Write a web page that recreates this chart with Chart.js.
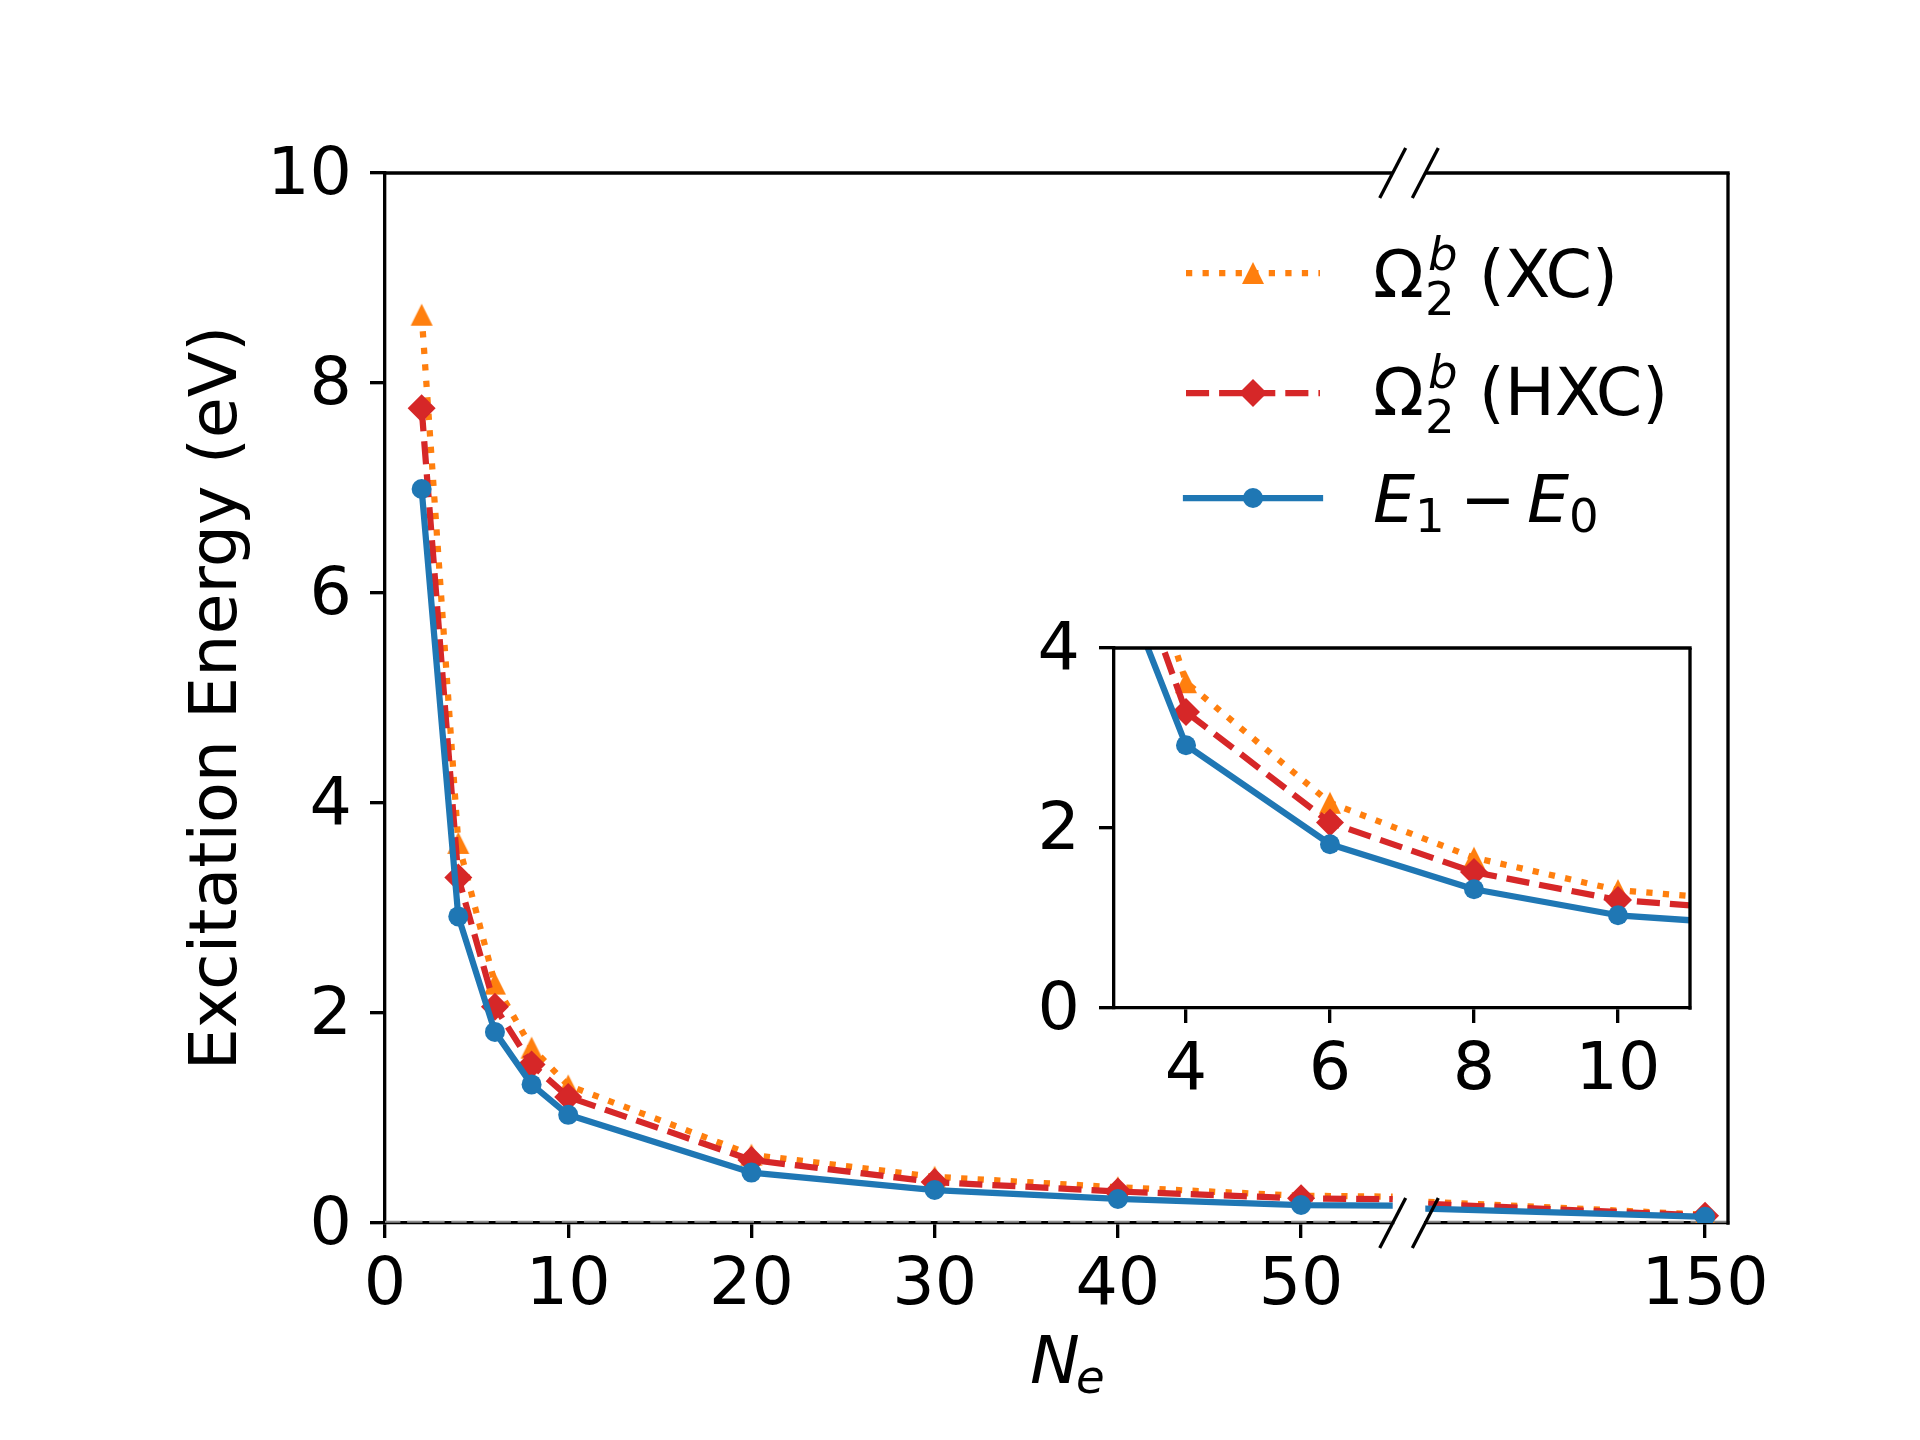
<!DOCTYPE html>
<html>
<head>
<meta charset="utf-8">
<script src="https://cdn.jsdelivr.net/npm/chart.js@4.4.1/dist/chart.umd.min.js"></script>
<style>
  html, body { margin: 0; padding: 0; background: #ffffff; }
  #wrap { position: relative; width: 1920px; height: 1440px; background: #ffffff; }
  #wrap canvas { position: absolute; left: 0; top: 0; }
</style>
</head>
<body>
<div id="wrap">
  <canvas id="mainL" width="1920" height="1440"></canvas>
  <canvas id="mainR" width="1920" height="1440"></canvas>
  <canvas id="inset" width="1920" height="1440"></canvas>
</div>
<script>
// ---------------- data ----------------
const ne        = [2, 4, 6, 8, 10, 20, 30, 40, 50, 150];
const omegaXC   = [8.65, 3.62, 2.28, 1.67, 1.31, 0.65, 0.44, 0.34, 0.26, 0.08];
const omegaHXC  = [7.76, 3.29, 2.06, 1.51, 1.20, 0.60, 0.39, 0.30, 0.235, 0.07];
const e1MinusE0 = [6.99, 2.92, 1.82, 1.32, 1.03, 0.48, 0.314, 0.229, 0.171, 0.06];

const xTicksLeft  = [0, 10, 20, 30, 40, 50];
const xTicksRight = [150];
const yTicksMain  = [0, 2, 4, 6, 8, 10];
const xTicksInset = [4, 6, 8, 10];
const yTicksInset = [0, 2, 4];

const xLimLeft  = [0, 55];
const xLimRight = [81.6, 155.6];
const yLimMain  = [0, 10];
const xLimInset = [3, 11];
const yLimInset = [0, 4];

const yTitle = 'Excitation Energy (eV)';

// ---------------- layout / style ----------------
const FIG_W = 1920, FIG_H = 1440;
const MAIN = { top: 173, bottom: 1223, leftL: 385, rightL: 1392.7, leftR: 1425.3, rightR: 1728 };
const INS  = { left: 1114, right: 1690, top: 648, bottom: 1008 };
const SP = 3.33, TL = 15, FS = 66.67, FS_SUB = 46.67, LW = 6.25;
const FAM = 'DejaVu Sans';
const C_OR = '#ff7f0e', C_RD = '#d62728', C_BL = '#1f77b4';
const DASH_DOT = [6.25, 10.3], DASH_DASH = [23.1, 10];

Chart.defaults.font.family = FAM;
Chart.defaults.color = '#000';

function triCanvas(color, size) {
  const c = document.createElement('canvas');
  const s = Math.ceil(size) + 2;
  c.width = s; c.height = s;
  const g = c.getContext('2d');
  g.fillStyle = color;
  g.beginPath();
  g.moveTo(s / 2, (s - size) / 2);
  g.lineTo((s + size) / 2, (s + size) / 2);
  g.lineTo((s - size) / 2, (s + size) / 2);
  g.closePath();
  g.fill();
  return c;
}
const TRI = triCanvas(C_OR, 22);

function pts(ys) { return ne.map((x, i) => ({ x: x, y: ys[i] })); }

function datasets() {
  return [
    { label: 'XC', data: pts(omegaXC), borderColor: C_OR, backgroundColor: C_OR,
      borderWidth: LW, borderDash: DASH_DOT, borderCapStyle: 'butt', borderJoinStyle: 'round',
      pointStyle: TRI, pointRadius: 11, pointBorderWidth: 0, pointBackgroundColor: C_OR,
      order: 3, clip: 0, tension: 0 },
    { label: 'HXC', data: pts(omegaHXC), borderColor: C_RD, backgroundColor: C_RD,
      borderWidth: LW, borderDash: DASH_DASH, borderCapStyle: 'butt', borderJoinStyle: 'round',
      pointStyle: 'rectRot', pointRadius: 14, pointBorderWidth: 0, pointBackgroundColor: C_RD,
      order: 2, clip: 0, tension: 0 },
    { label: 'E1-E0', data: pts(e1MinusE0), borderColor: C_BL, backgroundColor: C_BL,
      borderWidth: LW, borderCapStyle: 'square', borderJoinStyle: 'round',
      pointStyle: 'circle', pointRadius: 10, pointBorderWidth: 0, pointBackgroundColor: C_BL,
      order: 1, clip: 0, tension: 0 }
  ];
}

function tickGrid() {
  return { display: true, drawOnChartArea: false, drawTicks: true, tickLength: TL,
           tickWidth: SP, tickColor: '#000', color: '#000', lineWidth: SP };
}
function spine() { return { display: true, color: '#000', width: SP }; }
function tickFont() { return { family: FAM, size: FS }; }

function xAxis(lim, vals, bottom, pad) {
  return {
    type: 'linear', position: 'bottom', min: lim[0], max: lim[1],
    afterBuildTicks: s => { s.ticks = vals.map(v => ({ value: v })); },
    afterFit: s => { s.height = FIG_H - bottom; },
    grid: tickGrid(), border: spine(),
    ticks: { color: '#000', font: tickFont(), padding: pad, maxRotation: 0, minRotation: 0,
             autoSkip: false, callback: v => String(v) }
  };
}
function yAxis(lim, vals, left, pad, title) {
  const ax = {
    type: 'linear', position: 'left', min: lim[0], max: lim[1],
    afterBuildTicks: s => { s.ticks = vals.map(v => ({ value: v })); },
    afterFit: s => { s.width = left; },
    grid: tickGrid(), border: spine(),
    ticks: { color: '#000', font: tickFont(), padding: pad, labelOffset: 4, autoSkip: false,
             callback: v => String(v) }
  };
  if (title) {
    ax.title = { display: true, text: title, color: '#000', font: { family: FAM, size: FS },
                 padding: { top: 178.5, bottom: 0 } };
  }
  return ax;
}

function line(ctx, x1, y1, x2, y2, w, color, dash, cap) {
  ctx.save();
  ctx.strokeStyle = color || '#000';
  ctx.lineWidth = w;
  ctx.lineCap = cap || 'butt';
  ctx.setLineDash(dash || []);
  ctx.beginPath();
  ctx.moveTo(x1, y1);
  ctx.lineTo(x2, y2);
  ctx.stroke();
  ctx.restore();
}

function zeroLine(chart) {
  const a = chart.chartArea;
  const y = chart.scales.y.getPixelForValue(0);
  line(chart.ctx, a.left, y - 1.2, a.right, y - 1.2, 2, '#8c8c8c', [15.4, 6.7]);
}

function drawMarker(ctx, kind, x, y, color) {
  ctx.save();
  ctx.fillStyle = color;
  ctx.beginPath();
  if (kind === 'tri') {
    ctx.moveTo(x, y - 11); ctx.lineTo(x + 11, y + 11); ctx.lineTo(x - 11, y + 11);
  } else if (kind === 'dia') {
    ctx.moveTo(x, y - 14); ctx.lineTo(x + 14, y); ctx.lineTo(x, y + 14); ctx.lineTo(x - 14, y);
  } else {
    ctx.arc(x, y, 10, 0, Math.PI * 2);
  }
  ctx.closePath();
  ctx.fill();
  ctx.restore();
}

function txt(ctx, s, x, y, size, italic) {
  ctx.save();
  ctx.fillStyle = '#000';
  ctx.textBaseline = 'alphabetic';
  ctx.textAlign = 'left';
  ctx.font = (italic ? 'italic ' : '') + size + 'px "' + FAM + '"';
  ctx.fillText(s, x, y);
  const w = ctx.measureText(s).width;
  ctx.restore();
  return w;
}

function omegaLabel(ctx, x0, base, tail) {
  const wO = txt(ctx, 'Ω', x0, base, FS, false);
  const xs = x0 + wO + 1;
  const wb = txt(ctx, 'b', xs + 3, base - 27, FS_SUB, true);
  const w2 = txt(ctx, '2', xs, base + 18, FS_SUB, false);
  txt(ctx, ' ' + tail, xs + Math.max(wb + 3, w2), base, FS, false);
}

function drawLegend(ctx) {
  const x1 = 1186, x2 = 1320, xm = 1253;
  const rows = [
    { y: 273, color: C_OR, dash: DASH_DOT, cap: 'butt', mk: 'tri' },
    { y: 393, color: C_RD, dash: DASH_DASH, cap: 'butt', mk: 'dia' },
    { y: 498, color: C_BL, dash: [], cap: 'square', mk: 'circ' }
  ];
  rows.forEach(r => {
    line(ctx, x1, r.y, x2, r.y, LW, r.color, r.dash, r.cap);
    drawMarker(ctx, r.mk, xm, r.y, r.color);
  });
  omegaLabel(ctx, 1373, 297, '(XC)');
  omegaLabel(ctx, 1373, 415, '(HXC)');
  // E_1 − E_0
  txt(ctx, 'E', 1373, 522, FS, true);
  txt(ctx, '1', 1415, 532, FS_SUB, false);
  txt(ctx, '\u2212', 1460, 522, FS, false);
  txt(ctx, 'E', 1527, 522, FS, true);
  txt(ctx, '0', 1569, 532, FS_SUB, false);
}

function drawXLabel(ctx) {
  txt(ctx, 'N', 1030, 1383, FS, true);
  txt(ctx, 'e', 1076, 1393, FS_SUB, true);
}

const baseOpts = {
  responsive: false, animation: false, devicePixelRatio: 1, events: [],
  plugins: { legend: { display: false }, tooltip: { enabled: false }, title: { display: false } }
};

// -------- main chart, left segment --------
new Chart(document.getElementById('mainL'), {
  type: 'line',
  data: { datasets: datasets() },
  options: Object.assign({}, baseOpts, {
    layout: { padding: { left: 0, top: MAIN.top, right: FIG_W - MAIN.rightL, bottom: 0 } },
    scales: {
      x: xAxis(xLimLeft, xTicksLeft, MAIN.bottom, 9),
      y: yAxis(yLimMain, yTicksMain, MAIN.leftL, 18, yTitle)
    }
  }),
  plugins: [{
    id: 'frameL',
    beforeDatasetsDraw(chart) { zeroLine(chart); },
    afterDraw(chart) {
      const a = chart.chartArea, ctx = chart.ctx;
      line(ctx, a.left - SP / 2, a.top, a.right, a.top, SP);
      drawXLabel(ctx);
      drawLegend(ctx);
    }
  }]
});

// -------- main chart, right segment --------
new Chart(document.getElementById('mainR'), {
  type: 'line',
  data: { datasets: datasets() },
  options: Object.assign({}, baseOpts, {
    layout: { padding: { left: MAIN.leftR, top: MAIN.top, right: FIG_W - MAIN.rightR, bottom: 0 } },
    scales: {
      x: xAxis(xLimRight, xTicksRight, MAIN.bottom, 9),
      y: { type: 'linear', display: false, min: yLimMain[0], max: yLimMain[1] }
    }
  }),
  plugins: [{
    id: 'frameR',
    beforeDatasetsDraw(chart) { zeroLine(chart); },
    afterDraw(chart) {
      const a = chart.chartArea, ctx = chart.ctx;
      line(ctx, a.left, a.top, a.right + SP / 2, a.top, SP);
      line(ctx, a.right, a.top, a.right, a.bottom + SP / 2, SP);
      // break marks
      const dx = 13, dy = 25;
      [MAIN.rightL, a.left].forEach(cx => {
        [a.top, a.bottom].forEach(cy => {
          line(ctx, cx - dx, cy + dy, cx + dx, cy - dy, SP);
        });
      });
    }
  }]
});

// -------- inset --------
new Chart(document.getElementById('inset'), {
  type: 'line',
  data: { datasets: datasets() },
  options: Object.assign({}, baseOpts, {
    layout: { padding: { left: 0, top: INS.top, right: FIG_W - INS.right, bottom: 0 } },
    scales: {
      x: xAxis(xLimInset, xTicksInset, INS.bottom, 9),
      y: yAxis(yLimInset, yTicksInset, INS.left, 19, null)
    }
  }),
  plugins: [{
    id: 'frameI',
    beforeDraw(chart) {
      const a = chart.chartArea, ctx = chart.ctx;
      ctx.save();
      ctx.fillStyle = '#ffffff';
      ctx.fillRect(a.left, a.top, a.right - a.left, a.bottom - a.top);
      ctx.restore();
    },
    afterDraw(chart) {
      const a = chart.chartArea, ctx = chart.ctx;
      line(ctx, a.left - SP / 2, a.top, a.right + SP / 2, a.top, SP);
      line(ctx, a.right, a.top, a.right, a.bottom + SP / 2, SP);
    }
  }]
});
</script>
</body>
</html>
